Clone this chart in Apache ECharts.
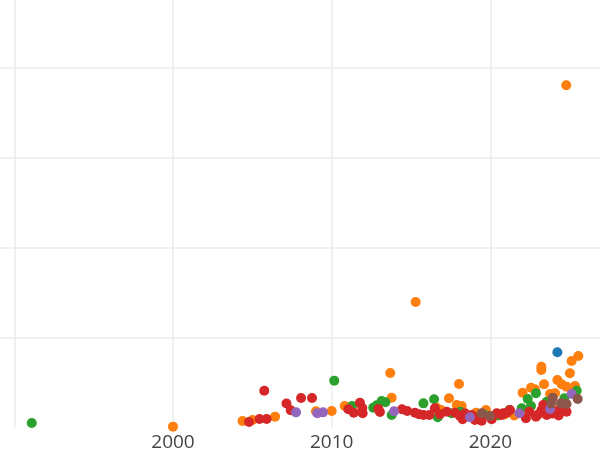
<!DOCTYPE html>
<html>
<head>
<meta charset="utf-8">
<script src="https://cdn.jsdelivr.net/npm/echarts@6/dist/echarts.min.js"></script>
<style>
  html, body { margin: 0; padding: 0; background: #fff; }
  #chart { width: 600px; height: 450px; }
</style>
</head>
<body>
<div id="chart"></div>
<script>
// [year, value] pairs, one array per colour group
const blueData = [[2024.22, 84.1]]

const orangeData = [
  [2000.0, 1.5], [2004.38, 7.8], [2005.01, 8.9], [2006.43, 12.6], [2009.01, 18.6],
  [2010.0, 18.9], [2010.82, 24.4], [2013.69, 61.1], [2013.78, 33.7], [2015.29, 140],
  [2016.6, 22.6], [2016.9, 20], [2017.39, 33], [2017.88, 25.6], [2018.02, 48.9],
  [2018.19, 24.4], [2019.1, 17], [2019.72, 20], [2020.9, 15], [2021.5, 14],
  [2022.03, 39.2], [2022.56, 44.8], [2022.81, 43], [2023.21, 68.1], [2023.21, 64.4],
  [2023.38, 48.6], [2023.76, 37.8], [2023.9, 22], [2024.07, 38.6], [2024.22, 53.3],
  [2024.49, 48.6], [2024.78, 380.8], [2024.8, 45.9], [2025.01, 60.8], [2025.12, 74.4],
  [2025.33, 46.7], [2025.54, 80]
]

const greenData = [
  [1991.1, 5.6], [2010.16, 52.6], [2011.28, 24.4], [2012.62, 22.6], [2012.84, 25.2],
  [2013.15, 30], [2013.38, 28.6], [2013.78, 14.4], [2015.78, 27.4], [2016.45, 31.9],
  [2016.68, 11.9], [2017.56, 16.3], [2018.1, 18], [2019.6, 15], [2020.5, 14],
  [2021.2, 20], [2021.97, 21.9], [2022.35, 32.2], [2022.56, 24.4], [2022.87, 38.6],
  [2023.55, 29.2], [2024.66, 33], [2025.44, 41.4]
]

const redData = [
  [2004.79, 6.7], [2005.45, 10], [2005.75, 41.4], [2005.9, 10], [2007.15, 27.2],
  [2007.42, 19.7], [2008.07, 33.3], [2008.76, 33.3], [2011.05, 20.8], [2011.39, 17],
  [2011.78, 28.1], [2011.93, 22.2], [2011.95, 16.3], [2012.94, 21.1], [2013.04, 17.8],
  [2014.43, 20.8], [2014.76, 18.9], [2015.25, 17], [2015.5, 15.2], [2015.78, 14.4],
  [2016.15, 14.4], [2016.5, 21.9], [2016.82, 15.2], [2017.25, 18.1], [2017.77, 17],
  [2018.08, 13.3], [2018.25, 9.7], [2018.4, 16.3], [2018.82, 14.4], [2019.03, 8.9],
  [2019.34, 12.6], [2019.45, 8.1], [2020.08, 9.7], [2020.4, 16.3], [2020.71, 14.4],
  [2020.81, 16.3], [2021.03, 17], [2021.23, 20], [2022.24, 10.8], [2022.45, 18.1],
  [2022.87, 12.6], [2023.0, 15], [2023.23, 20], [2023.33, 25.6], [2023.55, 14.4],
  [2023.7, 21], [2023.9, 16], [2024.07, 18.1], [2024.3, 14], [2024.39, 20],
  [2024.59, 21.9], [2024.8, 18]
]

const purpleData = [
  [2007.75, 17.4], [2009.09, 16.3], [2009.45, 17.4], [2013.93, 18.6], [2018.71, 11.9],
  [2021.82, 16.3], [2023.76, 21.1], [2025.12, 37.8]
]

const brownData = [
  [2019.45, 16.3], [2019.97, 13.3], [2023.82, 27.4], [2023.93, 33.7], [2024.45, 27.4],
  [2024.8, 26.7], [2025.5, 32.2]
]

const xTickLabels = [2000, 2010, 2020]

const groups = [
  { data: blueData, color: '#1f77b4' },
  { data: orangeData, color: '#ff7f0e' },
  { data: greenData, color: '#2ca02c' },
  { data: redData, color: '#d62728' },
  { data: purpleData, color: '#9467bd' },
  { data: brownData, color: '#8c564b' }
]

const gridColor = '#ebebeb'

const chart = echarts.init(document.getElementById('chart'))
chart.setOption({
  animation: false,
  // plot area runs past the page edges so only the visible part shows
  grid: {
    left: -144.4,
    right: -49.1,
    top: -22,
    bottom: 22,
    outerBoundsMode: 'none',
    containLabel: false
  },
  xAxis: {
    type: 'value',
    min: 1980,
    max: 2030,
    interval: 10,
    axisLine: { show: false },
    axisTick: { show: false },
    axisLabel: {
      margin: 5,
      fontFamily: 'Open Sans',
      fontSize: 19,
      color: '#444',
      formatter: function (v) {
        return xTickLabels.indexOf(v) >= 0 ? String(v) : ''
      }
    },
    splitLine: { show: true, lineStyle: { color: gridColor, width: 1.5 } }
  },
  yAxis: {
    type: 'value',
    min: 0,
    max: 500,
    interval: 100,
    axisLine: { show: false },
    axisTick: { show: false },
    axisLabel: { show: false },
    splitLine: {
      show: true,
      lineStyle: {
        color: ['rgba(0,0,0,0)', gridColor, gridColor, gridColor, gridColor, gridColor],
        width: 1.5
      }
    }
  },
  series: groups.map(function (g) {
    return {
      type: 'scatter',
      data: g.data,
      symbolSize: 10,
      clip: true,
      itemStyle: { color: g.color, opacity: 1 },
      silent: true
    }
  })
})
</script>
</body>
</html>
